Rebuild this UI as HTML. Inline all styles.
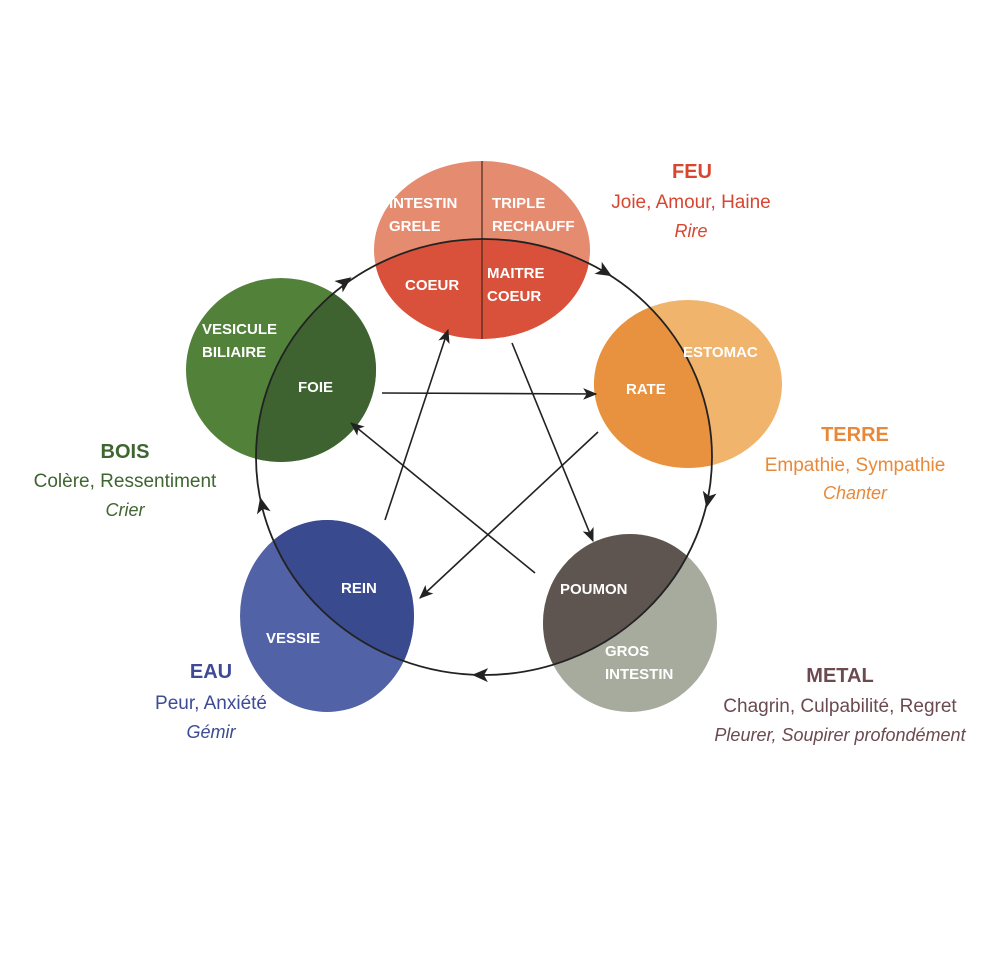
<!DOCTYPE html>
<html><head><meta charset="utf-8"><style>
html,body{margin:0;padding:0;background:#fff;}
svg{display:block;}
text{font-family:"Liberation Sans",sans-serif;}
.w{fill:#fff;font-weight:bold;font-size:15px;}
.h{font-weight:bold;font-size:20px;text-anchor:middle;}
.t{font-size:19px;text-anchor:middle;}
.i{font-size:18px;font-style:italic;text-anchor:middle;}
</style></head><body>
<svg width="992" height="960" viewBox="0 0 992 960" xmlns="http://www.w3.org/2000/svg">
<defs>
<clipPath id="big"><ellipse cx="484" cy="457" rx="228" ry="218"/></clipPath>
<marker id="a" viewBox="0 0 12 10" refX="11" refY="5" markerWidth="14" markerHeight="12" markerUnits="userSpaceOnUse" orient="auto">
<path d="M0,0 L12,5 L0,10 L3,5 Z" fill="#222"/></marker>
</defs>
<!-- FEU -->
<ellipse cx="482" cy="250" rx="108" ry="89" fill="#e48b70"/>
<ellipse cx="482" cy="250" rx="108" ry="89" fill="#d9513a" clip-path="url(#big)"/>
<line x1="482" y1="161" x2="482" y2="339" stroke="#4a2a20" stroke-width="1.2"/>
<!-- BOIS -->
<ellipse cx="281" cy="370" rx="95" ry="92" fill="#52813a"/>
<ellipse cx="281" cy="370" rx="95" ry="92" fill="#3e6330" clip-path="url(#big)"/>
<!-- TERRE -->
<ellipse cx="688" cy="384" rx="94" ry="84" fill="#f0b46c"/>
<ellipse cx="688" cy="384" rx="94" ry="84" fill="#e8913e" clip-path="url(#big)"/>
<!-- EAU -->
<ellipse cx="327" cy="616" rx="87" ry="96" fill="#5262a6"/>
<ellipse cx="327" cy="616" rx="87" ry="96" fill="#3a4a8f" clip-path="url(#big)"/>
<!-- METAL -->
<ellipse cx="630" cy="623" rx="87" ry="89" fill="#a7ab9e"/>
<ellipse cx="630" cy="623" rx="87" ry="89" fill="#5e5550" clip-path="url(#big)"/>
<!-- big cycle -->
<ellipse cx="484" cy="457" rx="228" ry="218" fill="none" stroke="#222" stroke-width="1.8"/>
<!-- cycle arrowheads -->
<g fill="#222">
<path d="M8,0 L-8,-7 L-4,0 L-8,7 Z" transform="translate(605,272) rotate(31)"/>
<path d="M8,0 L-8,-7 L-4,0 L-8,7 Z" transform="translate(708,500) rotate(102)"/>
<path d="M8,0 L-8,-7 L-4,0 L-8,7 Z" transform="translate(480,675) rotate(181)"/>
<path d="M8,0 L-8,-7 L-4,0 L-8,7 Z" transform="translate(262,505) rotate(-103)"/>
<path d="M8,0 L-8,-7 L-4,0 L-8,7 Z" transform="translate(345,282) rotate(-36)"/>
</g>
<!-- star arrows -->
<g stroke="#222" stroke-width="1.6" fill="none" marker-end="url(#a)">
<line x1="382" y1="393" x2="596" y2="394"/>
<line x1="598" y1="432" x2="420" y2="598"/>
<line x1="385" y1="520" x2="448" y2="330"/>
<line x1="512" y1="343" x2="593" y2="541"/>
<line x1="535" y1="573" x2="351" y2="423"/>
</g>
<!-- inner labels -->
<text class="w" x="389" y="208">INTESTIN</text>
<text class="w" x="389" y="231">GRELE</text>
<text class="w" x="492" y="208">TRIPLE</text>
<text class="w" x="492" y="231">RECHAUFF</text>
<text class="w" x="405" y="290">COEUR</text>
<text class="w" x="487" y="278">MAITRE</text>
<text class="w" x="487" y="301">COEUR</text>
<text class="w" x="202" y="334">VESICULE</text>
<text class="w" x="202" y="357">BILIAIRE</text>
<text class="w" x="298" y="392">FOIE</text>
<text class="w" x="683" y="357">ESTOMAC</text>
<text class="w" x="626" y="394">RATE</text>
<text class="w" x="341" y="593">REIN</text>
<text class="w" x="266" y="643">VESSIE</text>
<text class="w" x="560" y="594">POUMON</text>
<text class="w" x="605" y="656">GROS</text>
<text class="w" x="605" y="679">INTESTIN</text>
<!-- outer labels -->
<g fill="#d9452f"><text class="h" x="692" y="178">FEU</text><text class="t" x="691" y="208">Joie, Amour, Haine</text><text class="i" x="691" y="237">Rire</text></g>
<g fill="#e8893a"><text class="h" x="855" y="441">TERRE</text><text class="t" x="855" y="471">Empathie, Sympathie</text><text class="i" x="855" y="499">Chanter</text></g>
<g fill="#3f6530"><text class="h" x="125" y="458">BOIS</text><text class="t" x="125" y="487">Colère, Ressentiment</text><text class="i" x="125" y="516">Crier</text></g>
<g fill="#3d4a94"><text class="h" x="211" y="678">EAU</text><text class="t" x="211" y="709">Peur, Anxiété</text><text class="i" x="211" y="738">Gémir</text></g>
<g fill="#6b4a50"><text class="h" x="840" y="682">METAL</text><text class="t" x="840" y="712">Chagrin, Culpabilité, Regret</text><text class="i" x="840" y="741">Pleurer, Soupirer profondément</text></g>
</svg>
</body></html>
